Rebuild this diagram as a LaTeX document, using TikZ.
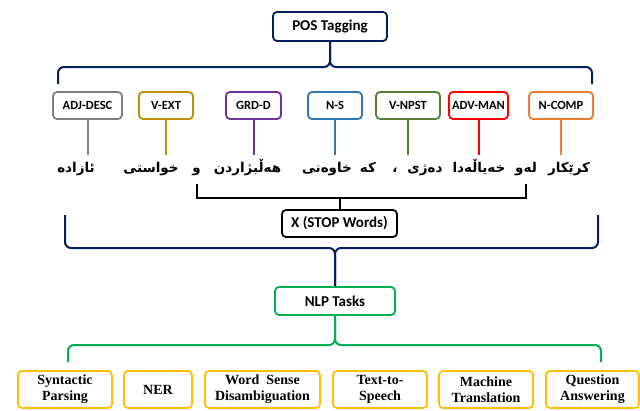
\documentclass[tikz,border=0pt]{standalone}
\usepackage{fontspec}
\setmainfont{Carlito}
\newfontfamily\taskfont{Liberation Serif}
\newfontfamily\kurdfont[Script=Arabic]{DejaVu Sans}
\TeXXeTstate=1
\usetikzlibrary{scopes}
\definecolor{navy}{HTML}{002060}
\definecolor{descgray}{HTML}{7F7F7F}
\definecolor{extgold}{HTML}{BF9000}
\definecolor{grdpurple}{HTML}{7030A0}
\definecolor{nsblue}{HTML}{2E75B6}
\definecolor{npstgreen}{HTML}{548235}
\definecolor{manred}{HTML}{FF0000}
\definecolor{comporange}{HTML}{ED7D31}
\definecolor{nlpgreen}{HTML}{00B050}
\definecolor{taskgold}{HTML}{FFC000}
\begin{document}
\begin{tikzpicture}[
    x=1pt,y=-1pt,
    box/.style={draw,rounded corners=4pt,line width=1.8pt,inner sep=0pt,align=center},
    main/.style={box,font=\fontsize{15}{17}\selectfont\bfseries,minimum height=28pt},
    tag/.style={box,font=\fontsize{12.5}{14}\selectfont\bfseries,minimum height=27pt},
    task/.style={box,draw=taskgold,font=\taskfont\fontsize{14}{16}\selectfont\bfseries,minimum height=37pt},
    word/.style={anchor=base,inner sep=0pt,text height=17pt,text depth=12pt,
        font=\kurdfont\fontsize{13.5}{15}\selectfont\bfseries},
    brace/.style={line width=2pt,rounded corners=6pt},
    stem/.style={line width=2pt},
    ]
\def\wordline{172} % Baseline of the Kurdish sentence
\useasboundingbox (0,0) rectangle (640,410);

    %% Root
    \node[main,draw=navy,minimum width=114pt,minimum height=29pt] (pos) at (330,26.5) {POS Tagging};

    %% Tags
    \node[tag,draw=descgray,minimum width=69pt] (adj) at (87.5,105.5) {ADJ-DESC};
    \node[tag,draw=extgold,minimum width=54pt] (vext) at (166,105.5) {V-EXT};
    \node[tag,draw=grdpurple,minimum width=55pt] (grd) at (253.5,105.5) {GRD-D};
    \node[tag,draw=nsblue,minimum width=54pt] (ns) at (335,105.5) {N-S};
    \node[tag,draw=npstgreen,minimum width=64pt] (vnpst) at (408,105.5) {V-NPST};
    \node[tag,draw=manred,minimum width=59pt] (advman) at (478.5,105.5) {ADV-MAN};
    \node[tag,draw=comporange,minimum width=64pt] (ncomp) at (561,105.5) {N-COMP};

    % Brace from the root to the tags
    \coordinate (tagsL) at (58,84);
    \coordinate (tagsR) at (592,84);
    {[brace,navy]
        \draw (pos.south) -- (pos.south |- 0,67) -- (tagsL |- 0,67) -- (tagsL);
        \draw (pos.south) -- (pos.south |- 0,67) -- (tagsR |- 0,67) -- (tagsR);
    }

    %% Sentence, one node per word, read from right to left
    \node[word] (wazad) at (76,\wordline) {\beginR ئازادە\endR};
    \node[word] (wxwast) at (151,\wordline) {\beginR خواستی\endR};
    \node[word] (wu) at (196.5,\wordline) {\beginR و\endR};
    \node[word] (whelb) at (247.5,\wordline) {\beginR هەڵبژاردن\endR};
    \node[word] (wxawen) at (327,\wordline) {\beginR خاوەنی\endR};
    \node[word] (wke) at (368,\wordline) {\beginR کە\endR};
    \node[word] (wcomma) at (395,\wordline) {\beginR ،\endR};
    \node[word] (wdezh) at (425,\wordline) {\beginR دەژی\endR};
    \node[word] (wxeyal) at (479,\wordline) {\beginR خەیاڵەدا\endR};
    \node[word] (wlew) at (526,\wordline) {\beginR لەو\endR};
    \node[word] (wkrekar) at (569,\wordline) {\beginR کرێکار\endR};

    % Tag lines down to the words
    \draw[stem,descgray] (adj.south) -- (adj.south |- wazad.north);
    \draw[stem,extgold] (vext.south) -- (vext.south |- wazad.north);
    \draw[stem,grdpurple] (grd.south) -- (grd.south |- wazad.north);
    \draw[stem,nsblue] (ns.south) -- (ns.south |- wazad.north);
    \draw[stem,npstgreen] (vnpst.south) -- (vnpst.south |- wazad.north);
    \draw[stem,manred] (advman.south) -- (advman.south |- wazad.north);
    \draw[stem,comporange] (ncomp.south) -- (ncomp.south |- wazad.north);

    %% Stop words
    \node[main,draw=black,minimum width=115pt,minimum height=27pt] (stop) at (339.5,223.5) {X (STOP Words)};
    \coordinate (brk) at (0,198);
    \draw[stem] (wu.south) -- (wu.south |- brk) -- (wlew.south |- brk) -- (wlew.south);
    \draw[stem] (stop.north) -- (stop.north |- brk);

    %% Tasks
    \node[main,draw=nlpgreen,minimum width=120pt] (nlp) at (335,301) {NLP Tasks};

    % Brace from the sentence to the tasks
    \coordinate (sentL) at (65,215);
    \coordinate (sentR) at (598,215);
    {[brace,navy]
        \draw (sentL) -- (sentL |- 0,248) -- (nlp.north |- 0,248) -- (nlp.north);
        \draw (sentR) -- (sentR |- 0,248) -- (nlp.north |- 0,248) -- (nlp.north);
    }

    \node[task,minimum width=94pt] (syn) at (65,389.5) {Syntactic\\Parsing};
    \node[task,minimum width=68pt] (ner) at (158,389.5) {NER};
    \node[task,minimum width=115pt] (wsd) at (262.5,389.5) {Word\ \ Sense\\Disambiguation};
    \node[task,minimum width=94pt] (tts) at (380,389.5) {Text-to-\\Speech};
    \node[task,minimum width=94pt] (mt) at (486,389.5) {Machine\\Translation};
    \node[task,minimum width=93pt] (qa) at (592.5,389.5) {Question\\Answering};

    % Brace from the tasks node to the list of tasks
    \coordinate (taskL) at (68,362);
    \coordinate (taskR) at (601,362);
    {[brace,nlpgreen]
        \draw (nlp.south) -- (nlp.south |- 0,345) -- (taskL |- 0,345) -- (taskL);
        \draw (nlp.south) -- (nlp.south |- 0,345) -- (taskR |- 0,345) -- (taskR);
    }
    %%
\end{tikzpicture}
\end{document}
